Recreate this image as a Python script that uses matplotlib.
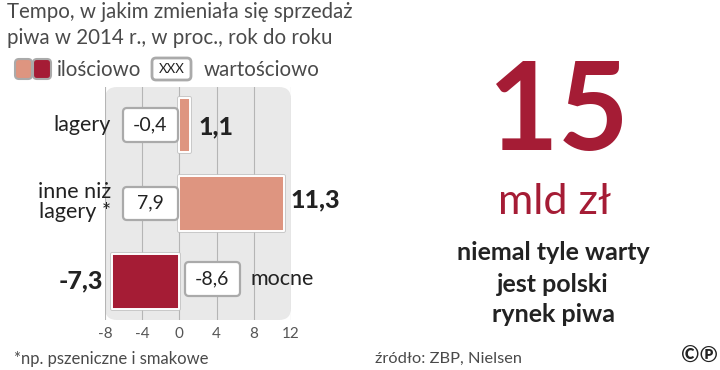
import matplotlib
matplotlib.use('Agg')
import matplotlib.pyplot as plt
import matplotlib.patheffects as pe
from matplotlib.patches import FancyBboxPatch

# values, in percent, year to year
categories = ['lagery', 'inne niż\nlagery *', 'mocne']
volume = [1.1, 11.3, -7.3]
value = [-0.4, 7.9, -8.6]
volume_labels = ['1,1', '11,3', '-7,3']
value_labels = ['-0,4', '7,9', '-8,6']
ticks = [-8, -4, 0, 4, 8, 12]

RED = '#a51c35'
SALMON = '#de9580'
DARK = '#222222'
GREY = '#4a4a4a'

plt.rcParams['font.family'] = ['Lato', 'DejaVu Sans']

fig = plt.figure(figsize=(7.2, 3.7), dpi=100)

# overlay in pixel coordinates for the furniture
bg = fig.add_axes([0, 0, 1, 1])
bg.set_xlim(0, 720)
bg.set_ylim(370, 0)
bg.axis('off')


def box(ax, x0, y0, x1, y1, face='white', edge='#aaaaaa', lw=1.6, z=5, r=4):
    ax.add_patch(FancyBboxPatch((x0, y0), x1 - x0, y1 - y0,
                                boxstyle='round,pad=0,rounding_size=%d' % r,
                                fc=face, ec=edge, lw=lw, zorder=z))


box(bg, 105, 87, 291, 320, face='#e9e9e9', edge='none', lw=0, z=1, r=12)

# main axis sits exactly on the grey panel
ax = fig.add_axes([105 / 720, 1 - 320 / 370, 186 / 720, 233 / 370])
ax.patch.set_alpha(0)
ax.set_xlim(-8, 12)
ax.set_ylim(2.492, -0.486)
bars = ax.barh(range(3), volume, height=0.70,
               color=[SALMON if v > 0 else RED for v in volume],
               edgecolor='white', linewidth=1.4, zorder=3)
for b in bars:
    b.set_joinstyle('round')
    b.set_path_effects([pe.withStroke(linewidth=2.6, foreground='#c2c2c2')])
ax.set_xticks(ticks)
ax.set_xticklabels(ticks, color='#555555', fontsize=11)
ax.set_yticks([])
ax.tick_params(axis='x', length=0, pad=5)
ax.grid(axis='x', color='#b5b5b5', lw=0.8, zorder=0)
ax.set_axisbelow(True)
for s in ax.spines.values():
    s.set_visible(False)

ax2 = fig.add_axes([0, 0, 1, 1])
ax2.set_xlim(0, 720)
ax2.set_ylim(370, 0)
ax2.axis('off')

# value boxes
box(ax2, 123, 108, 178, 142)
box(ax2, 123, 187, 178, 220)
box(ax2, 185, 262, 240, 296)
ax2.text(150, 125, value_labels[0], ha='center', va='center', fontsize=14, color=DARK, zorder=6)
ax2.text(150, 203, value_labels[1], ha='center', va='center', fontsize=14, color=DARK, zorder=6)
ax2.text(212, 279, value_labels[2], ha='center', va='center', fontsize=14, color=DARK, zorder=6)

# bold volume labels
ax2.text(198, 127, volume_labels[0], ha='left', va='center', fontsize=18, fontweight='black', color=DARK)
ax2.text(291, 200, volume_labels[1], ha='left', va='center', fontsize=18, fontweight='black', color=DARK)
ax2.text(103, 281, volume_labels[2], ha='right', va='center', fontsize=18, fontweight='black', color=DARK)

# category names
ax2.text(111, 125, categories[0], ha='right', va='center', fontsize=15.5, color=DARK)
ax2.text(111, 202, categories[1], ha='right', va='center', fontsize=15.5, color=DARK, linespacing=1.05)
ax2.text(250, 279, categories[2], ha='left', va='center', fontsize=15.5, color=DARK)

# title and legend
ax2.text(7, 12, 'Tempo, w jakim zmieniała się sprzedaż', va='center', fontsize=14.8, color=GREY)
ax2.text(7, 38, 'piwa w 2014 r., w proc., rok do roku', va='center', fontsize=14.8, color=GREY)
box(ax2, 15, 59, 32, 79, face=SALMON, lw=1.5)
box(ax2, 33, 59, 51, 79, face=RED, lw=1.5)
ax2.text(57, 70, 'ilościowo', va='center', fontsize=14.8, color=GREY)
box(ax2, 152, 58, 191, 80, lw=2)
ax2.text(171.5, 69, 'XXX', ha='center', va='center', fontsize=9.5, color=DARK, zorder=6)
ax2.text(204, 70, 'wartościowo', va='center', fontsize=14.8, color=GREY)

# footer
ax2.text(14, 359, '*np. pszeniczne i smakowe', va='center', fontsize=12, color=GREY)
ax2.text(375, 359, 'źródło: ZBP, Nielsen', va='center', fontsize=11.8, color=GREY)
ax2.text(699, 356, '©℗', ha='center', va='center', fontsize=16, color=DARK, fontweight='bold')

# right hand callout
ax2.text(559, 115, '15', ha='center', va='center', fontsize=88, fontweight='bold', color=RED)
ax2.text(555, 202, 'mld zł', ha='center', va='center', fontsize=31, color=RED)
ax2.text(553, 252, 'niemal tyle warty', ha='center', va='center', fontsize=18, fontweight='bold', color=DARK)
ax2.text(553, 284, 'jest polski', ha='center', va='center', fontsize=18, fontweight='bold', color=DARK)
ax2.text(553, 314, 'rynek piwa', ha='center', va='center', fontsize=18, fontweight='bold', color=DARK)

fig.savefig('out.png', dpi=100)
